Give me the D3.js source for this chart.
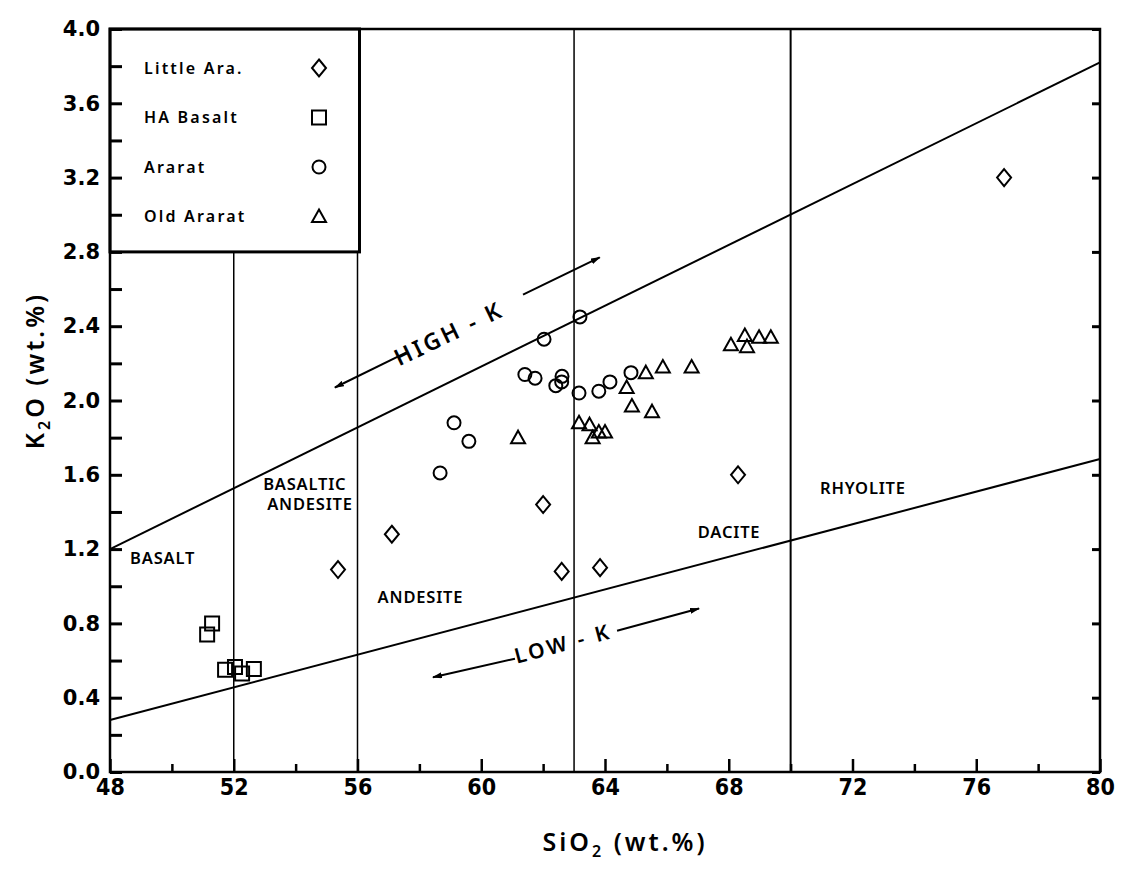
<!DOCTYPE html>
<html>
<head>
<meta charset="utf-8">
<script src="https://cdn.jsdelivr.net/npm/d3@7"></script>
<style>
  body { margin: 0; background: #fff; }
  text { fill: #000; }
</style>
</head>
<body>
<div id="chart"></div>
<script>
// SiO2 (wt.%), K2O (wt.%)
const littleAra = [[76.9, 3.20], [55.37, 1.09], [57.11, 1.28], [62.0, 1.44], [62.6, 1.08], [63.84, 1.10], [68.3, 1.60]];
const haBasalt = [[51.3, 0.80], [51.14, 0.74], [51.72, 0.55], [52.04, 0.565], [52.27, 0.53], [52.65, 0.555]];
const ararat = [[59.12, 1.88], [59.6, 1.78], [58.67, 1.61], [62.03, 2.33], [63.19, 2.45], [61.41, 2.14],
  [61.74, 2.12], [62.61, 2.13], [62.6, 2.10], [62.41, 2.08], [63.16, 2.04], [63.8, 2.05], [64.16, 2.10], [64.84, 2.15]];
const oldArarat = [[63.16, 1.88], [63.5, 1.87], [63.6, 1.80], [63.8, 1.83], [64.0, 1.83], [64.7, 2.07], [64.87, 1.97],
  [65.32, 2.15], [65.87, 2.18], [65.52, 1.94], [66.8, 2.18], [68.07, 2.30], [68.52, 2.35], [68.59, 2.29],
  [68.98, 2.34], [69.36, 2.34], [61.19, 1.80]];

const highK = [[48, 1.2], [80, 3.82]];
const lowK = [[48, 0.28], [80, 1.685]];
const dividers = [52, 56, 63, 70];

const xTickLabels = [48, 52, 56, 60, 64, 68, 72, 76, 80];
const yTickLabels = [0, 0.4, 0.8, 1.2, 1.6, 2.0, 2.4, 2.8, 3.2, 3.6, 4.0];

const fields = [
  { lines: ["BASALT"], x: 48.65, y: 1.15 },
  { lines: ["BASALTIC", "ANDESITE"], x: 52.95, y: 1.55 },
  { lines: ["ANDESITE"], x: 56.65, y: 0.94 },
  { lines: ["DACITE"], x: 67.0, y: 1.29 },
  { lines: ["RHYOLITE"], x: 70.95, y: 1.53 },
];

const series = [
  { name: "Little Ara.", data: littleAra, shape: "diamond" },
  { name: "HA Basalt", data: haBasalt, shape: "square" },
  { name: "Ararat", data: ararat, shape: "circle" },
  { name: "Old Ararat", data: oldArarat, shape: "triangle" },
];

const width = 1121;
const height = 869;
const margin = { top: 29, right: 21, bottom: 97, left: 110 };
const innerWidth = width - margin.left - margin.right;
const innerHeight = height - margin.top - margin.bottom;

const xScale = d3.scaleLinear().domain([48, 80]).range([0, innerWidth]);
const yScale = d3.scaleLinear().domain([0, 4]).range([innerHeight, 0]);

const shapes = {
  diamond: "M0,-8.5L7,0L0,8.5L-7,0Z",
  square: "M-7,-7H7V7H-7Z",
  circle: "M6.5,0A6.5,6.5 0 1,1 -6.5,0A6.5,6.5 0 1,1 6.5,0Z",
  triangle: "M0,-7L7,5.5L-7,5.5Z",
};

const svg = d3.select("#chart")
  .append("svg")
    .attr("width", width)
    .attr("height", height);

const inner = svg.append("g")
  .attr("transform", `translate(${margin.left}, ${margin.top})`);

// rock-type dividers
inner.selectAll(".divider")
  .data(dividers)
  .join("line")
    .attr("class", "divider")
    .attr("x1", (d) => xScale(d))
    .attr("x2", (d) => xScale(d))
    .attr("y1", 0)
    .attr("y2", innerHeight)
    .attr("stroke", "#000")
    .attr("stroke-width", (d) => (d === 70 ? 2 : 1.5));

// high-K / low-K boundaries
const line = d3.line().x((d) => xScale(d[0])).y((d) => yScale(d[1]));
inner.selectAll(".boundary")
  .data([highK, lowK])
  .join("path")
    .attr("class", "boundary")
    .attr("d", line)
    .attr("fill", "none")
    .attr("stroke", "#000")
    .attr("stroke-width", 2);

// arrows and labels along the boundaries
svg.append("defs").append("marker")
    .attr("id", "head")
    .attr("viewBox", "0 0 10 6")
    .attr("refX", 9)
    .attr("refY", 3)
    .attr("markerWidth", 10)
    .attr("markerHeight", 6)
    .attr("markerUnits", "userSpaceOnUse")
    .attr("orient", "auto")
  .append("path")
    .attr("d", "M0,0L10,3L0,6Z");

const arrows = [
  [[61.35, 2.57], [63.83, 2.77]],
  [[57.6, 2.26], [55.27, 2.07]],
  [[64.39, 0.76], [67.04, 0.88]],
  [[61.09, 0.61], [58.44, 0.51]],
];
inner.selectAll(".arrow")
  .data(arrows)
  .join("line")
    .attr("class", "arrow")
    .attr("x1", (d) => xScale(d[0][0]))
    .attr("y1", (d) => yScale(d[0][1]))
    .attr("x2", (d) => xScale(d[1][0]))
    .attr("y2", (d) => yScale(d[1][1]))
    .attr("stroke", "#000")
    .attr("stroke-width", 2)
    .attr("marker-end", "url(#head)");

const arrowLabels = [
  { text: "HIGH - K", x: 58.95, y: 2.36, angle: -25.7, size: 23 },
  { text: "LOW - K", x: 62.64, y: 0.69, angle: -15, size: 21 },
];
inner.selectAll(".arrow-label")
  .data(arrowLabels)
  .join("text")
    .attr("class", "arrow-label")
    .attr("transform", (d) => `translate(${xScale(d.x)}, ${yScale(d.y)}) rotate(${d.angle})`)
    .attr("text-anchor", "middle")
    .attr("dy", "0.35em")
    .attr("font-family", "Noto Sans, sans-serif")
    .attr("font-weight", 600)
    .attr("font-size", (d) => d.size)
    .attr("letter-spacing", 3)
    .text((d) => d.text);

// field names
inner.selectAll(".field")
  .data(fields)
  .join("text")
    .attr("class", "field")
    .attr("y", (d) => yScale(d.y))
    .attr("font-family", "Noto Sans, sans-serif")
    .attr("font-weight", 600)
    .attr("font-size", 16.5)
    .attr("letter-spacing", 0.8)
  .selectAll("tspan")
  .data((d) => d.lines.map((t, i) => ({ t, i, x: d.x })))
  .join("tspan")
    .attr("x", (d) => xScale(d.x) + d.i * 4)
    .attr("dy", (d) => (d.i === 0 ? "0.35em" : "1.25em"))
    .text((d) => d.t);

// data points
series.forEach((s) => {
  inner.append("g")
    .selectAll("path")
    .data(s.data)
    .join("path")
      .attr("transform", (d) => `translate(${xScale(d[0])}, ${yScale(d[1])})`)
      .attr("d", shapes[s.shape])
      .attr("fill", "none")
      .attr("stroke", "#000")
      .attr("stroke-width", 2);
});

// legend box
const legend = inner.append("g");
legend.append("rect")
    .attr("x", 0)
    .attr("y", 0)
    .attr("width", xScale(56) + 2)
    .attr("height", yScale(2.8))
    .attr("fill", "#fff")
    .attr("stroke", "#000")
    .attr("stroke-width", 3);

const legendItems = legend.selectAll(".item")
  .data(series)
  .join("g")
    .attr("class", "item")
    .attr("transform", (d, i) => `translate(0, ${39 + i * 49.5})`);

legendItems.append("text")
    .attr("x", 34)
    .attr("dy", "0.35em")
    .attr("font-family", "Noto Sans, sans-serif")
    .attr("font-weight", 600)
    .attr("font-size", 16)
    .attr("letter-spacing", 2.2)
    .text((d) => d.name);

legendItems.append("path")
    .attr("transform", "translate(209, 0)")
    .attr("d", (d) => shapes[d.shape])
    .attr("fill", "none")
    .attr("stroke", "#000")
    .attr("stroke-width", 2);

// frame
inner.append("rect")
    .attr("width", innerWidth)
    .attr("height", innerHeight)
    .attr("fill", "none")
    .attr("stroke", "#000")
    .attr("stroke-width", 2.5);

// y ticks (inward on both sides) and labels
const yMinor = d3.range(0, 4.01, 0.2);
inner.append("g")
    .call(d3.axisRight(yScale).tickValues(yMinor).tickSize(12).tickFormat(""))
    .call((g) => g.select(".domain").remove())
    .selectAll("line").attr("stroke-width", 3);
inner.append("g")
    .attr("transform", `translate(${innerWidth}, 0)`)
    .call(d3.axisLeft(yScale).tickValues(yTickLabels).tickSize(8).tickFormat(""))
    .call((g) => g.select(".domain").remove())
    .selectAll("line").attr("stroke-width", 3);
inner.append("g")
    .call(d3.axisLeft(yScale).tickValues(yTickLabels).tickSize(0).tickPadding(10).tickFormat(d3.format(".1f")))
    .call((g) => g.select(".domain").remove())
    .selectAll("text")
      .attr("font-family", "DejaVu Sans, sans-serif")
      .attr("font-weight", "bold")
      .attr("font-size", 21);

// x ticks (inward) and labels
const xMinor = d3.range(50, 80, 4);
inner.append("g")
    .attr("transform", `translate(0, ${innerHeight})`)
    .call(d3.axisTop(xScale).tickValues(xMinor).tickSize(8).tickFormat(""))
    .call((g) => g.select(".domain").remove())
    .selectAll("line").attr("stroke-width", 2.5);
inner.append("g")
    .attr("transform", `translate(0, ${innerHeight})`)
    .call(d3.axisTop(xScale).tickValues(xTickLabels).tickSize(13).tickFormat(""))
    .call((g) => g.select(".domain").remove())
    .selectAll("line").attr("stroke-width", 2.5);
inner.append("g")
    .attr("transform", `translate(0, ${innerHeight})`)
    .call(d3.axisBottom(xScale).tickValues(xTickLabels).tickSize(0).tickPadding(7))
    .call((g) => g.select(".domain").remove())
    .selectAll("text")
      .attr("font-family", "DejaVu Sans Condensed, DejaVu Sans, sans-serif")
      .attr("font-stretch", "condensed")
      .attr("font-weight", "bold")
      .attr("font-size", 23);

// axis titles
const xTitle = svg.append("text")
    .attr("x", margin.left + innerWidth / 2 + 20)
    .attr("y", 851)
    .attr("text-anchor", "middle")
    .attr("font-family", "Noto Sans, sans-serif")
    .attr("font-weight", 600)
    .attr("font-size", 25)
    .attr("letter-spacing", 3);
xTitle.append("tspan").text("SiO");
xTitle.append("tspan").attr("font-size", 16).attr("dy", 6).text("2");
xTitle.append("tspan").attr("dy", -6).text(" (wt.%)");

const yTitle = svg.append("text")
    .attr("transform", `translate(44, ${margin.top + innerHeight / 2 - 30}) rotate(-90)`)
    .attr("text-anchor", "middle")
    .attr("font-family", "Noto Sans, sans-serif")
    .attr("font-weight", 600)
    .attr("font-size", 25)
    .attr("letter-spacing", 3);
yTitle.append("tspan").text("K");
yTitle.append("tspan").attr("font-size", 16).attr("dy", 6).text("2");
yTitle.append("tspan").attr("dy", -6).text("O (wt.%)");
</script>
</body>
</html>
